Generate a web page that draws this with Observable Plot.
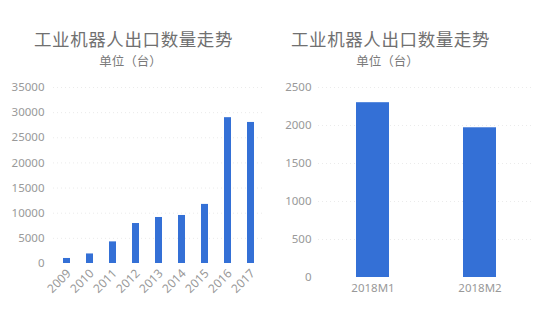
<!DOCTYPE html>
<html><head><meta charset="utf-8">
<script src="https://cdn.jsdelivr.net/npm/d3@7"></script>
<script src="https://cdn.jsdelivr.net/npm/@observablehq/plot@0.6"></script>
<style>
body{margin:0;background:#fff;font-family:"Noto Sans CJK SC","Noto Sans",sans-serif;}
#wrap{position:relative;width:554px;height:311px;overflow:hidden;}
.panel{position:absolute;top:0;width:277px;height:311px;}
.title{position:absolute;top:27px;width:100%;text-align:center;font-size:17.5px;letter-spacing:0.6px;color:#707070;line-height:24px;}
.sub{position:absolute;top:52px;width:100%;text-align:center;font-size:12.5px;color:#7a7a7a;line-height:18px;}
.chart{position:absolute;top:75px;left:0;}
</style></head>
<body><div id="wrap">
<div class="panel" id="p1" style="left:0"><div class="title" style="left:-5px">工业机器人出口数量走势</div><div class="sub" style="left:-8px">单位（台）</div><div class="chart" id="c1"></div></div>
<div class="panel" id="p2" style="left:277px"><div class="title" style="left:-25px">工业机器人出口数量走势</div><div class="sub" style="left:-28px">单位（台）</div><div class="chart" id="c2"></div></div>
</div>
<script>
const years = ["2009","2010","2011","2012","2013","2014","2015","2016","2017"];
const yearValues = [1000, 1900, 4300, 7950, 9150, 9550, 11750, 29000, 28050];
const yearTicks = [0,5000,10000,15000,20000,25000,30000,35000];
const months = ["2018M1","2018M2"];
const monthValues = [2300, 1970];
const monthTicks = [0,500,1000,1500,2000,2500];

const barColor = "#3470d6";
const labelColor = "#999";
const tickStyle = {fontSize:"11.5px", fontFamily:"'Noto Sans','Liberation Sans',sans-serif", color:labelColor};

const d1 = years.map((y,i)=>({k:y, v:yearValues[i]}));
const c1 = Plot.plot({
  width:277, height:236, marginTop:12, marginBottom:48, marginLeft:53, marginRight:14,
  style:tickStyle,
  x:{domain:years, range:[54.5,261.5], paddingInner:0.7, paddingOuter:0.35, label:null},
  y:{domain:[0,35000], label:null},
  marks:[
    Plot.ruleY(yearTicks.slice(1), {stroke:"#ebebeb", strokeDasharray:"1,3"}),
    Plot.barY(d1, {x:"k", y:"v", fill:barColor}),
    Plot.axisY({ticks:yearTicks, tickSize:0, tickPadding:9, tickFormat:d=>String(d), fill:labelColor}),
    Plot.axisX({tickSize:0, tickRotate:-45, tickPadding:8, dx:2, fontSize:12, fill:labelColor})
  ]
});
document.getElementById("c1").append(c1);

const d2 = months.map((m,i)=>({k:m, v:monthValues[i]}));
const c2 = Plot.plot({
  width:277, height:236, marginTop:12, marginBottom:34, marginLeft:41, marginRight:22,
  style:tickStyle,
  x:{domain:months, range:[42.5,256.5], paddingInner:0.69, paddingOuter:0.345, label:null},
  y:{domain:[0,2500], label:null},
  marks:[
    Plot.ruleY(monthTicks.slice(1), {stroke:"#ebebeb", strokeDasharray:"1,3"}),
    Plot.barY(d2, {x:"k", y:"v", fill:barColor}),
    Plot.axisY({ticks:monthTicks, tickSize:0, tickPadding:7, tickFormat:d=>String(d), fill:labelColor}),
    Plot.axisX({tickSize:0, tickPadding:6, fill:labelColor})
  ]
});
document.getElementById("c2").append(c2);
</script>
</body></html>
